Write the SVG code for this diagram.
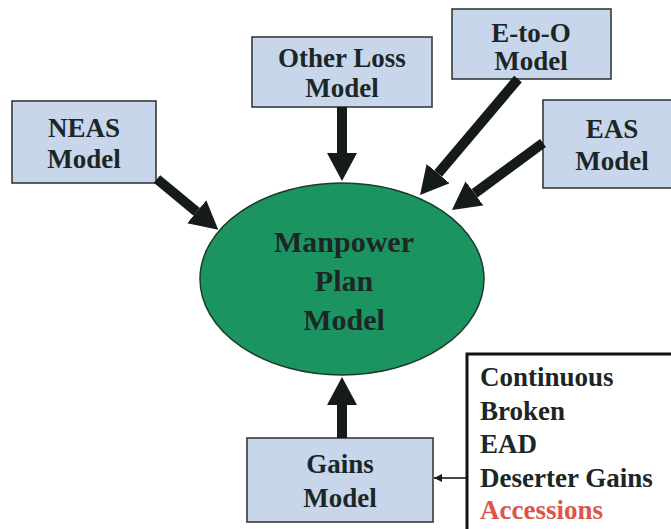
<svg xmlns="http://www.w3.org/2000/svg" width="671" height="529" viewBox="0 0 671 529">
<style>
.box{fill:#c7d6ea;stroke:#363a3a;stroke-width:1.6}
text{font-family:"Times New Roman","Liberation Serif",Tinos,"DejaVu Serif",serif;font-weight:bold;font-size:27px;fill:#1c2626}
.t{text-anchor:middle}
.big{font-size:30px}
.shaft{stroke:#151a1a;stroke-width:10;fill:none;marker-end:url(#ah)}
</style>
<defs>
<marker id="ah" markerUnits="userSpaceOnUse" markerWidth="28" markerHeight="30" refX="0" refY="15" orient="auto" viewBox="0 0 28 30">
<path d="M0,0 L28,15 L0,30 z" fill="#151a1a"/>
</marker>
<marker id="sm" markerUnits="userSpaceOnUse" markerWidth="8" markerHeight="8" refX="8" refY="4" orient="auto" viewBox="0 0 8 8">
<path d="M0,0 L8,4 L0,8 z" fill="#151a1a"/>
</marker>
</defs>
<rect width="671" height="529" fill="#ffffff"/>
<g id="neas"><rect class="box" x="12" y="101" width="144" height="82"/><text class="t" x="84" y="137">NEAS</text><text class="t" x="84" y="168">Model</text></g>
<g id="otherloss"><rect class="box" x="252" y="37" width="180" height="70"/><text class="t" x="342" y="67">Other Loss</text><text class="t" x="342" y="97">Model</text></g>
<g id="etoo"><rect class="box" x="452" y="9" width="159" height="70"/><text class="t" x="531" y="42">E-to-O</text><text class="t" x="531" y="70">Model</text></g>
<g id="eas"><rect class="box" x="543" y="100" width="140" height="88"/><text class="t" x="612" y="138">EAS</text><text class="t" x="612" y="170">Model</text></g>
<g id="manpower"><ellipse cx="342" cy="279" rx="142" ry="96" fill="#1c9462" stroke="#1b3a2a" stroke-width="1.5"/><text class="t big" x="344" y="252">Manpower</text><text class="t big" x="344" y="291">Plan</text><text class="t big" x="344" y="330">Model</text></g>
<g id="gains"><rect class="box" x="247" y="438" width="186" height="84"/><text class="t" x="340" y="473">Gains</text><text class="t" x="340" y="507">Model</text></g>
<g id="list"><rect x="467" y="354" width="220" height="200" fill="#ffffff" stroke="#111" stroke-width="3"/>
<text x="480" y="386">Continuous</text>
<text x="480" y="420">Broken</text>
<text x="480" y="453">EAD</text>
<text x="480" y="487">Deserter Gains</text>
<text x="480" y="519" style="fill:#dd5548">Accessions</text>
</g>
<g id="connectors">
<line class="shaft" x1="157" y1="179" x2="196.7" y2="211.8"/>
<line class="shaft" x1="342" y1="107" x2="342" y2="153"/>
<line class="shaft" x1="518" y1="79" x2="438.1" y2="173.6"/>
<line class="shaft" x1="543" y1="143" x2="474.5" y2="193.4"/>
<line class="shaft" x1="342" y1="438" x2="342" y2="405"/>
<line x1="466" y1="478" x2="434" y2="478" stroke="#151a1a" stroke-width="1.6" marker-end="url(#sm)"/>
</g>
</svg>
